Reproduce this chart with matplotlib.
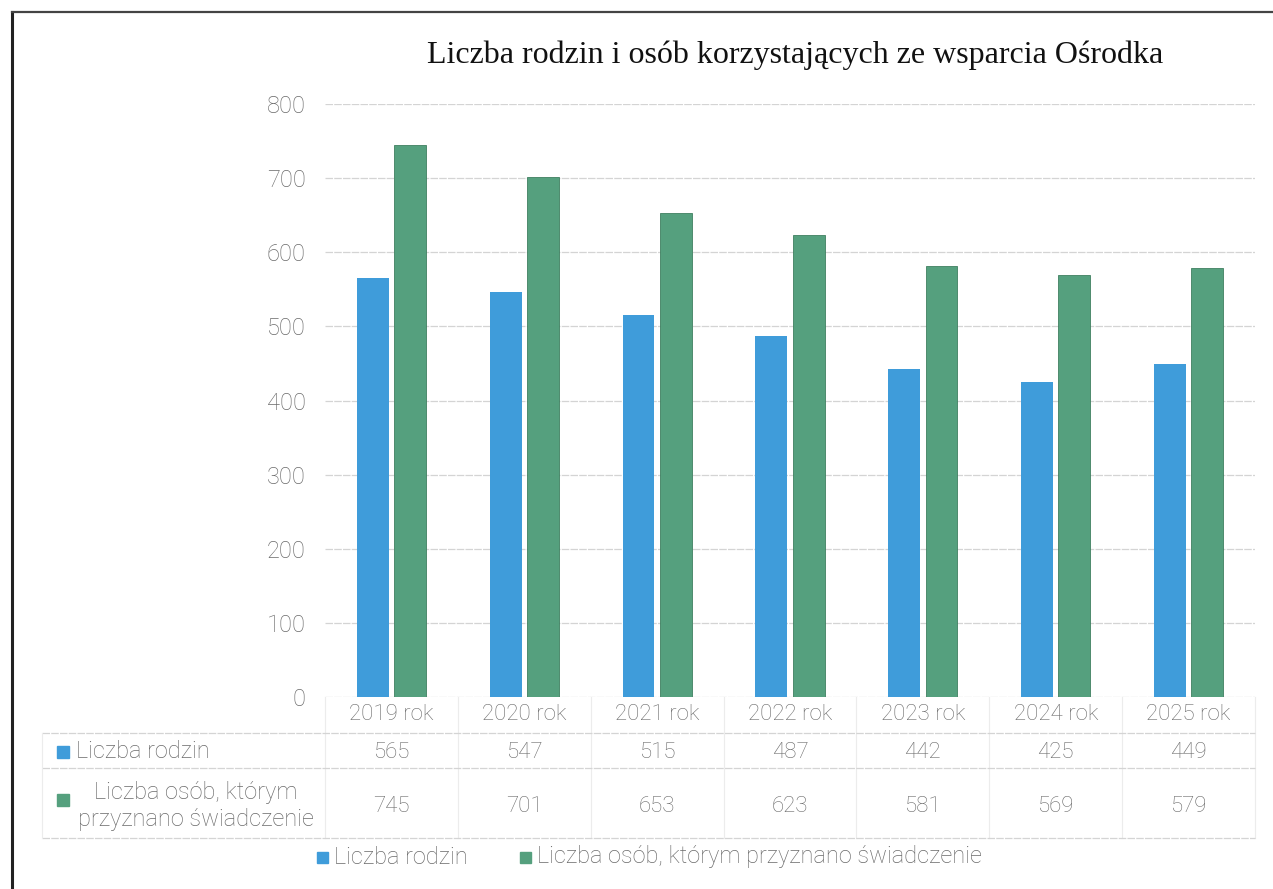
import matplotlib
matplotlib.use("Agg")
import matplotlib.pyplot as plt
from matplotlib.lines import Line2D
from matplotlib.patches import Rectangle

# chart data
years = ["2019 rok", "2020 rok", "2021 rok", "2022 rok", "2023 rok", "2024 rok", "2025 rok"]
rodziny = [565, 547, 515, 487, 442, 425, 449]
osoby = [745, 701, 653, 623, 581, 569, 579]
yticks = [0, 100, 200, 300, 400, 500, 600, 700, 800]

title = "Liczba rodzin i osób korzystających ze wsparcia Ośrodka"
name_rodziny = "Liczba rodzin"
name_osoby = "Liczba osób, którym przyznano świadczenie"
row_osoby = "Liczba osób, którym\nprzyznano świadczenie"

BLUE = "#3f9cda"
GREEN = "#55a07e"
GREEN_EDGE = "#3f7f60"
TXT = "#6a6a6a"
GRID = "#d4d4d4"

W, H = 1273, 889
plt.rcParams["font.family"] = ["Roboto", "DejaVu Sans"]

fig = plt.figure(figsize=(W / 100, H / 100), dpi=100)


def fx(px):
    return px / W


def fy(py):
    return 1 - py / H


# frame (left and top only)
fig.add_artist(Line2D([fx(12), fx(12)], [fy(12), 0], color="#222222", lw=2.2))
fig.add_artist(Line2D([fx(12), 1], [fy(12), fy(12)], color="#444444", lw=1.6))

left, right, top, bottom = 325, 1255, 104, 697
ax = fig.add_axes([fx(left), fy(bottom), fx(right - left), (bottom - top) / H])

n = len(years)
xs = list(range(n))
bw = 0.24
gap = 0.04
ax.bar([x - (bw + gap) / 2 for x in xs], rodziny, width=bw, color=BLUE, zorder=3)
ax.bar([x + (bw + gap) / 2 for x in xs], osoby, width=bw, color=GREEN,
       edgecolor=GREEN_EDGE, linewidth=0.6, zorder=3)

ax.set_xlim(-0.5, n - 0.5)
ax.set_ylim(0, 800)
ax.set_yticks(yticks)
ax.set_yticklabels([str(v) for v in yticks], color=TXT, fontsize=17, fontweight="light")
ax.tick_params(axis="y", length=0, pad=14)
ax.set_xticks([])
for s in ax.spines.values():
    s.set_visible(False)
ax.yaxis.grid(True, color=GRID, lw=0.9, linestyle=(0, (6, 1)))
ax.set_axisbelow(True)

fig.text(fx(795), fy(55), title, ha="center", va="center",
         family=["Liberation Serif", "DejaVu Serif"], fontsize=23, color="#111111")

# data table below the plot
tr = ax.get_xaxis_transform()


def ay(py):
    # pixel row -> axes y fraction
    return (bottom - py) / (bottom - top)


y_hdr, y_r1, y_r2 = 715, 752, 806
line_ys = [733, 768, 838]
for x, yr, a, b in zip(xs, years, rodziny, osoby):
    ax.text(x, ay(y_hdr), yr, transform=tr, ha="center", va="center",
            fontsize=16, color=TXT, fontweight="light", clip_on=False)
    ax.text(x, ay(y_r1), str(a), transform=tr, ha="center", va="center",
            fontsize=16, color=TXT, fontweight="light", clip_on=False)
    ax.text(x, ay(y_r2), str(b), transform=tr, ha="center", va="center",
            fontsize=16, color=TXT, fontweight="light", clip_on=False)

for ly in line_ys:
    fig.add_artist(Line2D([fx(42), fx(right)], [fy(ly), fy(ly)], color=GRID, lw=0.9,
                          linestyle=(0, (6, 1))))
for x in range(n + 1):
    ax.plot([x - 0.5, x - 0.5], [ay(bottom), ay(838)], transform=tr, color="#ececec",
            lw=0.8, clip_on=False)
fig.add_artist(Line2D([fx(42), fx(42)], [fy(733), fy(838)], color="#ececec", lw=0.8))

# row headers
fig.add_artist(Rectangle((fx(57), fy(758)), fx(12), 12 / H, color=BLUE))
fig.text(fx(76), fy(y_r1), name_rodziny, ha="left", va="center", fontsize=17,
         color=TXT, fontweight="light")
fig.add_artist(Rectangle((fx(57), fy(806)), fx(12), 12 / H, color=GREEN))
fig.text(fx(196), fy(y_r2), row_osoby, ha="center", va="center", fontsize=17,
         color=TXT, fontweight="light", linespacing=1.2)

# legend
fig.add_artist(Rectangle((fx(317), fy(863)), fx(11), 11 / H, color=BLUE))
fig.text(fx(334), fy(857), name_rodziny, ha="left", va="center", fontsize=17,
         color=TXT, fontweight="light")
fig.add_artist(Rectangle((fx(520), fy(863)), fx(11), 11 / H, color=GREEN))
fig.text(fx(537), fy(857), name_osoby, ha="left", va="center", fontsize=17,
         color=TXT, fontweight="light")

fig.savefig("out.png", dpi=100)
